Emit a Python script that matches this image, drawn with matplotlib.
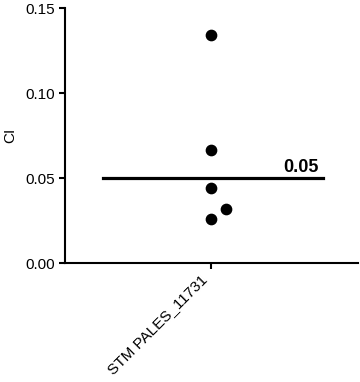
import numpy as np
import matplotlib.pyplot as plt

plt.rcParams['font.family'] = ['Liberation Sans', 'DejaVu Sans']

category = ["STM PALES_11731"]
x_offsets = [0.0, 0.0, 0.0, 0.1, 0.0]
ci_values = [0.134, 0.0665, 0.044, 0.032, 0.026]
threshold = 0.05

fig = plt.figure(figsize=(3.6, 3.82), dpi=100)
ax = fig.add_axes([0.181, 0.311, 0.813, 0.668])

ax.scatter(x_offsets, ci_values, s=55, color="black", zorder=3)
ax.plot([-0.74, 0.76], [threshold, threshold], color="black", lw=2.3)
ax.text(0.73, threshold + 0.0015, f"{threshold:.2f}", fontsize=13, fontweight="bold",
        ha="right", va="bottom")

ax.set_xlim(-1, 1)
ax.set_ylim(0, 0.15)
ax.set_yticks([0, 0.05, 0.10, 0.15])
ax.set_yticklabels(["0.00", "0.05", "0.10", "0.15"])
ax.set_xticks([0])
ax.set_xticklabels([""])
ax.annotate(category[0], xy=(0, 0), xycoords=("data", "axes fraction"),
            xytext=(-8.5, -6.5), textcoords="offset points",
            rotation=45, ha="right", va="top", rotation_mode="anchor", fontsize=11)
ax.set_ylabel("CI", fontsize=11, labelpad=6)

for side in ["top", "right"]:
    ax.spines[side].set_visible(False)
for side in ["left", "bottom"]:
    ax.spines[side].set_linewidth(1.5)
ax.tick_params(width=1.5, length=4, direction="out")
ax.tick_params(axis="y", labelsize=11)

fig.savefig("out.png", dpi=100)
